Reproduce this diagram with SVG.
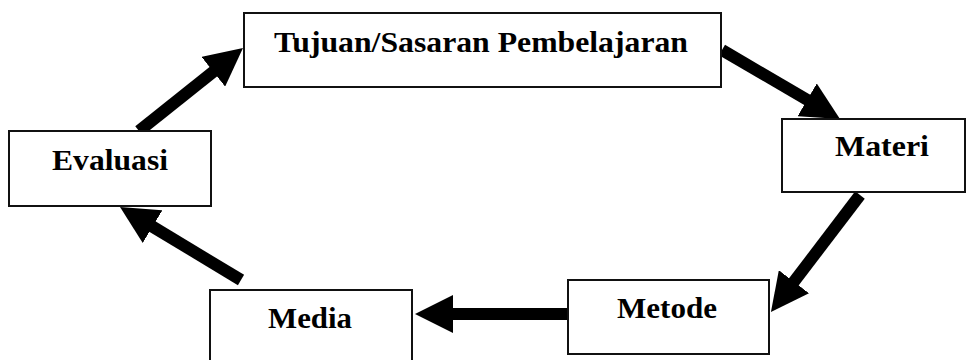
<svg xmlns="http://www.w3.org/2000/svg" width="969" height="360" viewBox="0 0 969 360">
<style>
.box{fill:#fff;stroke:#111;stroke-width:2}
.lbl{font-family:"Liberation Serif","Times New Roman",serif;font-weight:bold;font-size:30px;fill:#000}
.arr{stroke:#000;stroke-width:12;fill:none;marker-end:url(#head)}
</style>
<defs>
<marker id="head" markerUnits="userSpaceOnUse" viewBox="0 0 38 38" markerWidth="38" markerHeight="38" refX="10" refY="19" orient="auto">
<path d="M0,0 L38,19 L0,38 Z" fill="#000"/>
</marker>
</defs>
<rect width="969" height="360" fill="#fff"/>
<g id="connectors">
<line class="arr" x1="139" y1="131" x2="221.1" y2="65.5"/>
<line class="arr" x1="722" y1="50" x2="815.8" y2="104.9"/>
<line class="arr" x1="860" y1="195" x2="787.9" y2="289.7"/>
<line class="arr" x1="568" y1="314" x2="443" y2="314"/>
<line class="arr" x1="241" y1="280" x2="144" y2="221.5"/>
</g>
<g id="tujuan">
<rect class="box" x="244" y="13" width="477" height="74"/>
<text class="lbl" x="274" y="52" textLength="414" lengthAdjust="spacingAndGlyphs">Tujuan/Sasaran Pembelajaran</text>
</g>
<g id="materi">
<rect class="box" x="782" y="119" width="183" height="73"/>
<text class="lbl" x="835" y="156" textLength="94" lengthAdjust="spacingAndGlyphs">Materi</text>
</g>
<g id="metode">
<rect class="box" x="568" y="280" width="201" height="74"/>
<text class="lbl" x="617" y="318" textLength="100" lengthAdjust="spacingAndGlyphs">Metode</text>
</g>
<g id="media">
<rect class="box" x="210" y="290" width="202" height="80"/>
<text class="lbl" x="268" y="328" textLength="84" lengthAdjust="spacingAndGlyphs">Media</text>
</g>
<g id="evaluasi">
<rect class="box" x="9" y="131" width="202" height="75"/>
<text class="lbl" x="52" y="170" textLength="116" lengthAdjust="spacingAndGlyphs">Evaluasi</text>
</g>
</svg>
